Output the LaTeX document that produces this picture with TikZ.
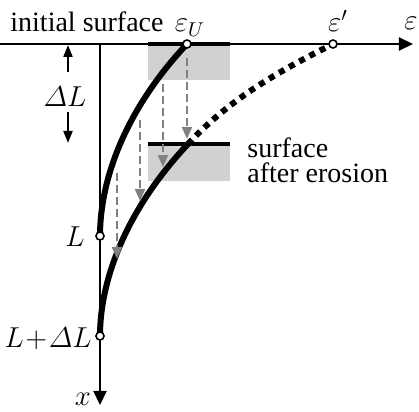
\documentclass[tikz,border=0pt]{standalone}
\usepackage{amsmath}
\usepackage{fontspec}
\setmainfont{Liberation Serif}
\usetikzlibrary{arrows.meta}

\begin{document}
\begin{tikzpicture}[
    x=0.5pt, y=-0.5pt,
    every node/.style={font=\fontsize{14}{12.5}\selectfont, inner sep=0pt},
    axis/.style ={line width=1.1pt, -{Triangle[length=7pt, width=6.5pt]}},
    dim/.style  ={line width=1pt, -{Triangle[length=6pt, width=4.5pt]}},
    shade/.style={fill=black!18},
    surf/.style ={line width=2pt},
    curve/.style={line width=3pt},
    % continuation of the eroded profile above the new surface
    dotline/.style={line width=3pt, dash pattern=on 3pt off 2.8pt},
    drop/.style ={draw=black!50, line width=1pt, dash pattern=on 4pt off 2pt,
                  -{Triangle[length=6pt, width=5pt, fill=black!50]}},
    knot/.style ={circle, draw, fill=white, line width=0.8pt, minimum size=4pt}
]
    \useasboundingbox (0,0) rectangle (419,412);

    % key points (pixel grid of the figure, y downwards)
    \coordinate (O)    at (100,44);
    \coordinate (xend) at (0,44);
    \coordinate (eend) at (413,44);
    \coordinate (xbot) at (100,405);
    \coordinate (eU)   at (187,44);
    \coordinate (ep)   at (333,44);
    \coordinate (L)    at (100,236);
    \coordinate (LdL)  at (100,336);
    \coordinate (eS)   at (188,144);

    % shaded bands under both surfaces
    \fill[shade] (148,44) rectangle (230,80);
    \fill[shade] (148,144) rectangle (230,181);

    \draw[axis] (xend) -- (eend);
    \draw[axis] (O) -- (xbot);

    \coordinate (s1a) at (148,44);  \coordinate (s1b) at (230,44);
    \coordinate (s2a) at (148,144); \coordinate (s2b) at (230,144);
    \draw[surf] (s1a) -- (s1b);
    \draw[surf] (s2a) -- (s2b);

    \draw[curve] (L) .. controls +(0,-56) and +(-62,66) .. (eU);
    \draw[curve] (LdL) .. controls +(0,-56) and +(-62,66) .. (eS);
    \draw[dotline] (eS) .. controls +(40,-43) and +(-60,30) .. (ep);

    % profile shifted down by Delta L
    \foreach \xx/\ya/\yb [count=\i] in {187/58/139, 163/84/167, 140/120/201, 117/173/259} {
        \coordinate (d\i a) at (\xx,\ya);
        \coordinate (d\i b) at (\xx,\yb);
        \draw[drop] (d\i a) -- (d\i b);
    }

    \node[knot] (kU)   at (eU)  {};
    \node[knot] (kp)   at (ep)  {};
    \node[knot] (kL)   at (L)   {};
    \node[knot] (kLdL) at (LdL) {};

    \node[anchor=base west] (init)  at (10,32)  {initial surface};
    \node[anchor=base]      (eUlab) at (190,32) {$\varepsilon_U$};
    \node[anchor=base]      (eplab) at (338,32) {$\varepsilon'$};
    \node[anchor=base west] (elab)  at (404,30) {$\varepsilon$};
    \node[anchor=base]      (xlab)  at (83,406) {$x$};
    \node[anchor=east]      (Llab)  at (85,237) {$L$};
    \node[anchor=east]      (LdLlab) at (92,339) {$L\mkern1mu{+}\mkern1mu\varDelta L$};
    \node[anchor=north west, align=left] (erod) at (247,137) {surface\\after erosion};

    \node (dLlab) at (65,97) {$\varDelta L$};
    \coordinate (dLa) at (68,72);  \coordinate (dLtop) at (68,45);
    \coordinate (dLb) at (68,112); \coordinate (dLbot) at (68,143);
    \draw[dim] (dLa) -- (dLtop);
    \draw[dim] (dLb) -- (dLbot);
\end{tikzpicture}
\end{document}
